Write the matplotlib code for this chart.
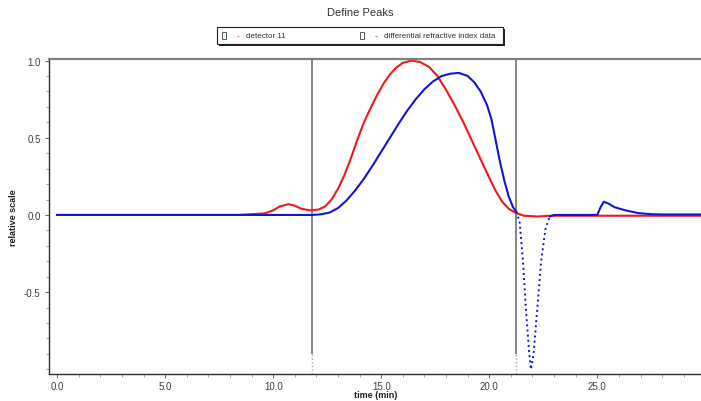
import matplotlib
matplotlib.use("Agg")
import matplotlib.pyplot as plt
from matplotlib.patches import Rectangle

plt.rcParams["font.family"] = ["Liberation Sans", "DejaVu Sans"]

# detector 11 (red)
red_t = [0.0, 8.4, 9.0, 9.6, 10.0, 10.3, 10.7, 11.0, 11.3, 11.7, 12.1, 12.4, 12.7,
         13.0, 13.3, 13.6, 13.9, 14.2, 14.5, 14.8, 15.1, 15.4, 15.7, 16.0, 16.4,
         16.8, 17.2, 17.6, 18.0, 18.4, 18.8, 19.2, 19.6, 20.0, 20.3, 20.6, 20.9,
         21.2, 21.6, 22.2, 22.7, 23.2, 29.8]
red_y = [0.0, 0.0, 0.005, 0.01, 0.03, 0.055, 0.07, 0.06, 0.04, 0.03, 0.035, 0.055, 0.10,
         0.17, 0.26, 0.37, 0.49, 0.60, 0.69, 0.775, 0.85, 0.91, 0.955, 0.985, 1.0,
         0.99, 0.96, 0.90, 0.81, 0.71, 0.60, 0.48, 0.36, 0.24, 0.155, 0.085, 0.04,
         0.015, -0.005, -0.01, -0.006, -0.005, -0.005]

# differential refractive index data (blue)
blue_t = [0.0, 11.8, 12.2, 12.6, 13.0, 13.4, 13.8, 14.2, 14.6, 15.0, 15.4, 15.8,
          16.2, 16.6, 17.0, 17.4, 17.8, 18.2, 18.6, 19.0, 19.3, 19.6, 19.9, 20.1,
          20.3, 20.5, 20.7, 20.9, 21.1, 21.25]
blue_y = [0.0, 0.0, 0.004, 0.015, 0.045, 0.095, 0.16, 0.235, 0.32, 0.41, 0.50, 0.59,
          0.675, 0.75, 0.815, 0.865, 0.90, 0.915, 0.92, 0.90, 0.86, 0.80, 0.71, 0.62,
          0.48, 0.34, 0.22, 0.12, 0.05, 0.02]
# the negative trough, drawn as sparse dots in the reference
dip_t = [21.25, 21.4, 21.55, 21.7, 21.85, 21.93, 22.05, 22.25, 22.4, 22.6, 22.8]
dip_y = [0.02, -0.04, -0.28, -0.62, -0.90, -1.0, -0.90, -0.56, -0.30, -0.09, -0.01]
tail_t = [22.8, 23.0, 25.0, 25.15, 25.3, 25.5, 25.8, 26.3, 26.9, 27.5, 28.0, 29.8]
tail_y = [-0.01, 0.0, 0.0, 0.05, 0.085, 0.075, 0.05, 0.03, 0.012, 0.005, 0.003, 0.003]

peak_limits = [11.8, 21.25]
x_ticks = [0, 5, 10, 15, 20, 25]
y_ticks = [-0.5, 0.0, 0.5, 1.0]

W, H = 701, 402
fig = plt.figure(figsize=(W / 100, H / 100), dpi=100)
ax = fig.add_axes([49 / W, 1 - 375 / H, 1 - 49 / W, (375 - 60) / H])

for x in peak_limits:
    ax.vlines(x, -0.9, 1.02, color="#707070", lw=1.2, zorder=1)
    ax.vlines(x, -1.03, -0.9, color="#a0a0a0", lw=1.0, linestyles=":", zorder=1)

ax.plot(red_t, red_y, color="#f01818", lw=1.5, zorder=2)
ax.plot(blue_t, blue_y, color="#1414d4", lw=1.5, zorder=3)
ax.plot(dip_t, dip_y, color="#1414d4", lw=1.4, ls=":", zorder=3)
ax.plot(tail_t, tail_y, color="#1414d4", lw=1.5, zorder=3)

ax.set_xlim(-0.38, 29.8)
ax.set_ylim(-1.03, 1.01)
ax.set_xticks(x_ticks)
ax.set_xticklabels([f"{v:.1f}" for v in x_ticks])
ax.set_xticks(range(0, 30), minor=True)
ax.set_yticks(y_ticks)
ax.set_yticklabels([f"{v:.1f}" for v in y_ticks])
ax.set_yticks([i / 10 for i in range(-10, 11)], minor=True)
ax.tick_params(which="major", length=3, width=0.6, labelsize=7,
               colors="#505050", labelcolor="#404040", pad=3)
ax.tick_params(which="minor", length=2, width=0.5, colors="#808080")
ax.tick_params(axis="x", pad=2)

for s in ["left", "bottom"]:
    ax.spines[s].set_color("#303030")
    ax.spines[s].set_linewidth(1.0)
ax.spines["top"].set_color("#808080")
ax.spines["top"].set_linewidth(1.6)
ax.spines["right"].set_visible(False)

fig.text(360 / W, 1 - 13 / H, "Define Peaks", ha="center", va="center",
         fontsize=8, color="#303030")
fig.text(14 / W, 1 - 218 / H, "relative scale", rotation=90, ha="center",
         va="center", fontsize=6.5, fontweight="bold", color="#202020")
fig.text(376 / W, 1 - 396 / H, "time (min)", ha="center", va="center",
         fontsize=6.5, fontweight="bold", color="#202020")

# legend box with drop shadow
fig.patches.append(Rectangle((219 / W, 1 - 47 / H), 286 / W, 17 / H,
                             transform=fig.transFigure, facecolor="#202020",
                             edgecolor="none", zorder=5))
fig.patches.append(Rectangle((217 / W, 1 - 45 / H), 286 / W, 17 / H,
                             transform=fig.transFigure, facecolor="white",
                             edgecolor="#202020", lw=0.8, zorder=6))
entries = [(222, "#f01818", "detector 11"),
           (360, "#1414d4", "differential refractive index data")]
for x0, c, label in entries:
    fig.patches.append(Rectangle((x0 / W, 1 - 40 / H), 4 / W, 7 / H,
                                 transform=fig.transFigure, facecolor="white",
                                 edgecolor="#404040", lw=0.6, zorder=7))
    fig.text((x0 + 16) / W, 1 - 36.5 / H, "-", ha="center", va="center",
             fontsize=6, color=c, zorder=8)
    fig.text((x0 + 24) / W, 1 - 36.5 / H, label, ha="left", va="center",
             fontsize=5.8, color="#303030", zorder=8)

fig.savefig("out.png", dpi=100)
